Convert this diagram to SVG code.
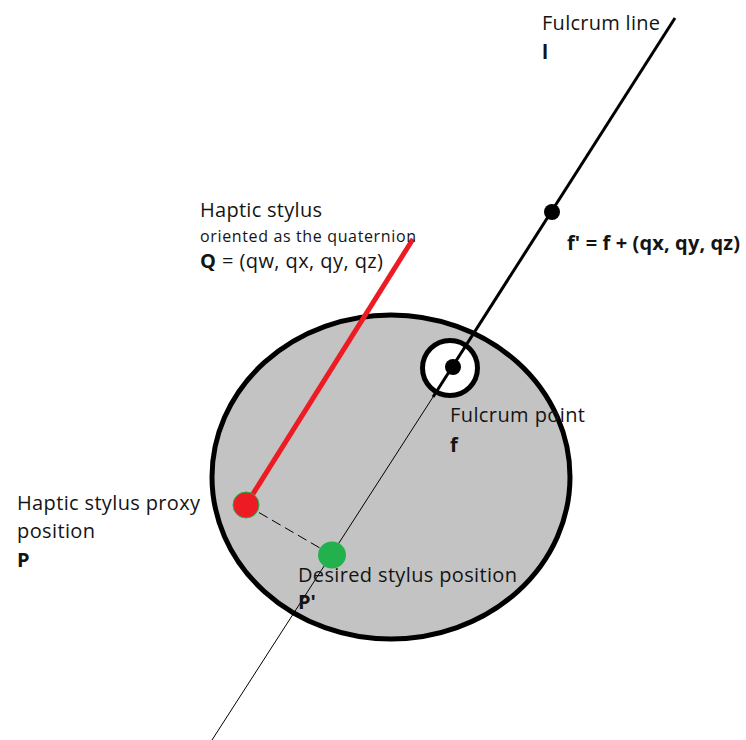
<svg xmlns="http://www.w3.org/2000/svg" width="746" height="740" viewBox="0 0 746 740">
<style>
text{font-family:"Open Sans","Liberation Sans",sans-serif;font-size:20px;fill:#141414}
.b{font-weight:bold}
.s{font-size:16px}
</style>
<rect width="746" height="740" fill="#fff"/>
<g id="sphere"><ellipse cx="391" cy="477" rx="179" ry="162" fill="#c3c3c3" stroke="#000" stroke-width="5"/></g>
<g id="connectors">
<line x1="433" y1="397" x2="212" y2="740" stroke="#000" stroke-width="1"/>
<line x1="246" y1="505" x2="332" y2="555" stroke="#000" stroke-width="1" stroke-dasharray="10,5"/>
</g>
<g id="fulcrum-point">
<circle cx="450" cy="368" r="27.5" fill="#fff" stroke="#000" stroke-width="5"/>
</g>
<g id="fulcrum-line">
<line x1="675" y1="18" x2="433" y2="397" stroke="#000" stroke-width="3"/>
<circle cx="453" cy="367" r="8" fill="#000"/>
</g>
<g id="f-prime"><circle cx="552" cy="212" r="8" fill="#000"/></g>
<g id="stylus"><line x1="413" y1="239" x2="246" y2="505" stroke="#ed1c24" stroke-width="5"/></g>
<g id="proxy"><circle cx="246" cy="505" r="13" fill="#ed1c24" stroke="#22b14c" stroke-width="1"/></g>
<g id="desired"><ellipse cx="332" cy="555" rx="14" ry="13.5" fill="#22b14c"/></g>
<g id="labels">
<text x="542" y="30" textLength="118">Fulcrum line</text>
<text x="542" y="59" class="b">l</text>
<text x="567" y="250" class="b" textLength="173">f' = f + (qx, qy, qz)</text>
<text x="200" y="217" textLength="122">Haptic stylus</text>
<text x="200" y="242" class="s" textLength="216">oriented as the quaternion</text>
<text x="200" y="268" textLength="183"><tspan class="b">Q</tspan> = (qw, qx, qy, qz)</text>
<text x="450" y="422" textLength="135">Fulcrum point</text>
<text x="450" y="452" class="b">f</text>
<text x="17" y="510" textLength="183">Haptic stylus proxy</text>
<text x="17" y="538" textLength="78">position</text>
<text x="17" y="567" class="b">P</text>
<text x="298" y="582" textLength="219">Desired stylus position</text>
<text x="298" y="609" class="b">P'</text>
</g>
</svg>
